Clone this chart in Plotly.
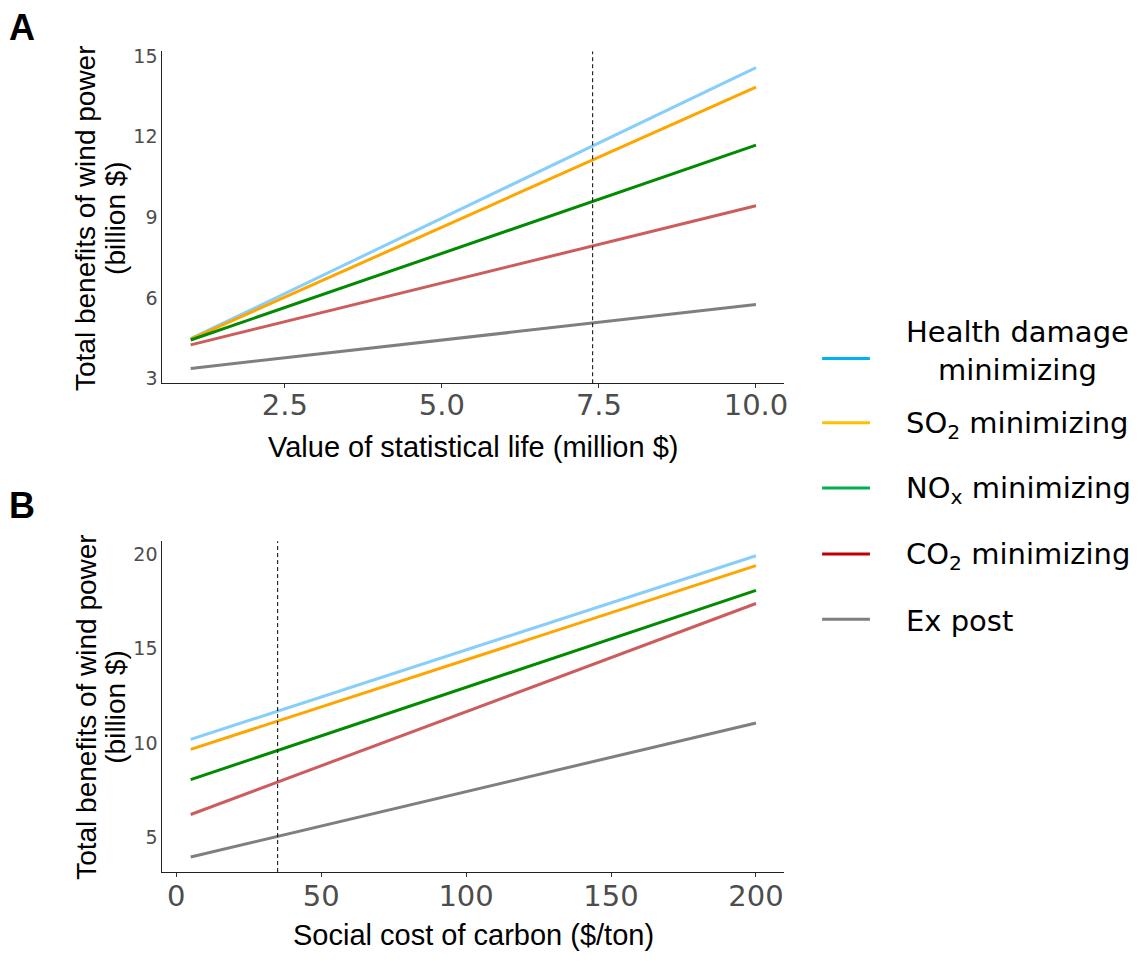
import plotly.graph_objects as go

W, H = 1139, 961

# ---------------- data ----------------
series_names = ["Health damage minimizing", "SO2 minimizing", "NOx minimizing",
                "CO2 minimizing", "Ex post"]
line_colors = ["#87CEFA", "#FFA500", "#008B00", "#CD5C5C", "#7F7F7F"]
legend_colors = ["#00B0F0", "#FFC000", "#00B050", "#C00000", "#7F7F7F"]
legend_labels = ["Health damage<br>minimizing", "SO<sub>2</sub> minimizing",
                 "NO<sub>x</sub> minimizing", "CO<sub>2</sub> minimizing", "Ex post"]

# Panel A: value of statistical life (million $)
vsl = [1, 10]
vsl_health = [4.48, 14.58]
vsl_so2 = [4.46, 13.85]
vsl_nox = [4.43, 11.69]
vsl_co2 = [4.25, 9.43]
vsl_expost = [3.37, 5.75]
vsl_ref = 7.4
vsl_ticks = [2.5, 5.0, 7.5, 10.0]
vsl_ticklabels = ["2.5", "5.0", "7.5", "10.0"]
a_yticks = [3, 6, 9, 12, 15]

# Panel B: social cost of carbon ($/ton)
scc = [5, 200]
scc_health = [10.20, 19.93]
scc_so2 = [9.67, 19.41]
scc_nox = [8.07, 18.10]
scc_co2 = [6.22, 17.40]
scc_expost = [3.97, 11.07]
scc_ref = 35
scc_ticks = [0, 50, 100, 150, 200]
b_yticks = [5, 10, 15, 20]

a_series = [vsl_health, vsl_so2, vsl_nox, vsl_co2, vsl_expost]
b_series = [scc_health, scc_so2, scc_nox, scc_co2, scc_expost]

# ---------------- figure ----------------
def px_x(p):
    return p / W

def px_y(p):
    return 1 - p / H

fig = go.Figure()

for name, ys, col in zip(series_names, a_series, line_colors):
    fig.add_trace(go.Scatter(x=vsl, y=ys, mode="lines", name=name, showlegend=False,
                             line=dict(color=col, width=3), xaxis="x", yaxis="y"))
for name, ys, col in zip(series_names, b_series, line_colors):
    fig.add_trace(go.Scatter(x=scc, y=ys, mode="lines", name=name, showlegend=False,
                             line=dict(color=col, width=3), xaxis="x2", yaxis="y2"))

TICKFONT_X = dict(family="DejaVu Sans", size=29, color="#4D4D4D")
TICKFONT_Y = dict(family="DejaVu Sans", size=19, color="#4D4D4D")

xdom = [px_x(163), px_x(787)]
axis_common = dict(showline=True, linecolor="#222222", linewidth=1.2, showgrid=False,
                   zeroline=False, mirror=False)

fig.update_layout(
    width=W, height=H,
    margin=dict(l=0, r=0, t=0, b=0),
    paper_bgcolor="white", plot_bgcolor="white",
    showlegend=False,
    xaxis=dict(domain=xdom, anchor="y", range=[0.55, 10.45], tickmode="array",
               tickvals=vsl_ticks, ticktext=vsl_ticklabels, ticks="outside", ticklen=4,
               tickcolor="#333333", tickfont=TICKFONT_X, ticklabelstandoff=-8,
               **axis_common),
    yaxis=dict(domain=[px_y(382), px_y(46)], anchor="x", range=[2.82, 15.18],
               tickmode="array", tickvals=a_yticks, ticks="", tickfont=TICKFONT_Y,
               **axis_common),
    xaxis2=dict(domain=xdom, anchor="y2", range=[-4.75, 209.75], tickmode="array",
                tickvals=scc_ticks, ticks="outside", ticklen=4, tickcolor="#333333",
                tickfont=TICKFONT_X, ticklabelstandoff=-6, **axis_common),
    yaxis2=dict(domain=[px_y(877), px_y(542)], anchor="x2", range=[3.17, 20.7],
                tickmode="array", tickvals=b_yticks, ticks="", tickfont=TICKFONT_Y,
                **axis_common),
)

# reference dashed lines
fig.add_shape(type="line", xref="x", yref="y domain", x0=vsl_ref, x1=vsl_ref, y0=0, y1=1,
              line=dict(color="black", width=1, dash="4px,3px"))
fig.add_shape(type="line", xref="x2", yref="y2 domain", x0=scc_ref, x1=scc_ref, y0=0, y1=1,
              line=dict(color="black", width=1, dash="4px,3px"))

ann = []
TITLE_FONT = dict(family="Liberation Sans, Arial", size=28, color="black")
XTITLE_FONT = dict(family="Liberation Sans, Arial", size=29, color="black")
# y titles (two lines each)
for yc in (215, 710):
    ann.append(dict(text="Total benefits of wind power", textangle=-90,
                    x=px_x(86), y=px_y(yc), xref="paper", yref="paper",
                    xanchor="center", yanchor="middle", showarrow=False,
                    font=TITLE_FONT))
    ann.append(dict(text="(billion $)", textangle=-90,
                    x=px_x(116), y=px_y(yc), xref="paper", yref="paper",
                    xanchor="center", yanchor="middle", showarrow=False,
                    font=TITLE_FONT))
# x titles
ann.append(dict(text="Value of statistical life (million $)", x=px_x(475), y=px_y(447),
                xref="paper", yref="paper", xanchor="center", yanchor="middle",
                showarrow=False, font=XTITLE_FONT))
ann.append(dict(text="Social cost of carbon ($/ton)", x=px_x(475), y=px_y(941),
                xref="paper", yref="paper", xanchor="center", yanchor="middle",
                showarrow=False, font=XTITLE_FONT))
# panel letters
ann.append(dict(text="<b>A</b>", x=px_x(22), y=px_y(22), xref="paper", yref="paper",
                xanchor="center", yanchor="middle", showarrow=False,
                font=dict(family="Liberation Sans, Arial", size=36, color="black")))
ann.append(dict(text="<b>B</b>", x=px_x(22), y=px_y(506), xref="paper", yref="paper",
                xanchor="center", yanchor="middle", showarrow=False,
                font=dict(family="Liberation Sans, Arial", size=36, color="black")))

# legend (manual)
leg_y = [357, 422, 488, 555, 621]
LEG_FONT = dict(family="DejaVu Sans", size=29, color="black")
for lab, col, yy in zip(legend_labels, legend_colors, leg_y):
    fig.add_shape(type="line", xref="paper", yref="paper", x0=px_x(825), x1=px_x(873),
                  y0=px_y(yy), y1=px_y(yy), line=dict(color=col, width=3))
    ann.append(dict(text=lab, x=px_x(907), y=px_y(yy + 2 if "<br>" not in lab else yy - 8),
                    xref="paper", yref="paper", xanchor="left", yanchor="middle",
                    showarrow=False, font=LEG_FONT, align="center"))

fig.update_layout(annotations=ann)
fig.write_html("out.html")
